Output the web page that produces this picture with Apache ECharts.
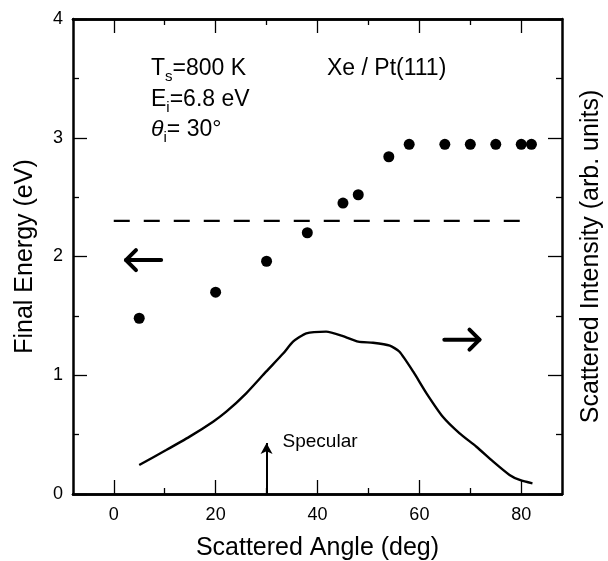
<!DOCTYPE html>
<html>
<head>
<meta charset="utf-8">
<script src="https://cdn.jsdelivr.net/npm/echarts@6/dist/echarts.min.js"></script>
<style>
html,body{margin:0;padding:0;background:#fff;}
#main{width:608px;height:561px;}
</style>
</head>
<body>
<div id="main"></div>
<script>
// ---- data ----
const angleEnergy = [5, 20, 30, 38, 45, 48, 54, 58, 65, 70, 75, 80, 82];
const finalEnergy = [1.48, 1.70, 1.96, 2.20, 2.45, 2.52, 2.84, 2.945, 2.945, 2.945, 2.945, 2.945, 2.945];
const angleCurve = [5, 10.3, 14.9, 19.5, 22.1, 26, 29.9, 33.3, 35.2, 37.8, 41.7, 45, 48, 50.9, 54.2, 56.1, 58.8, 61.4, 64.6, 67.9, 71.2, 74.5, 77.7, 79.7, 82.2];
const intensity = [0.244, 0.37, 0.483, 0.609, 0.693, 0.848, 1.03, 1.185, 1.283, 1.353, 1.367, 1.33, 1.283, 1.274, 1.249, 1.198, 1.03, 0.848, 0.651, 0.511, 0.398, 0.272, 0.16, 0.118, 0.09];
const incidentAngles = [0, 80];
const incidentLevel = [2.3, 2.3];
const xMajorTicks = [0, 20, 40, 60, 80];
const xMinorTicks = [10, 30, 50, 70];
const specularAngle = 30;
const specularTop = 0.43;
const leftArrow = {from: [9.3, 1.97], to: [2.4, 1.97]};
const rightArrow = {from: [64.9, 1.30], to: [71.8, 1.30]};

const FONT = 'Liberation Sans';
const BLACK = '#000';

const chart = echarts.init(document.getElementById('main'), null, {renderer: 'canvas'});

function xAxisDef(pos, ticks, len, labels, extra) {
  return Object.assign({
    type: 'value', min: -8, max: 88, position: pos,
    axisLine: {show: true, onZero: false, lineStyle: {color: BLACK, width: 2.5}},
    axisTick: {show: true, inside: true, length: len, customValues: ticks, lineStyle: {color: BLACK, width: 1.3}},
    axisLabel: labels ? {show: true, customValues: ticks, fontSize: 18, fontFamily: FONT, color: BLACK, margin: 12} : {show: false},
    splitLine: {show: false}
  }, extra || {});
}

const option = {
  animation: false,
  backgroundColor: '#fff',
  grid: {left: 73, right: 46, top: 19, bottom: 67, containLabel: false, outerBoundsMode: 'none'},
  xAxis: [
    xAxisDef('bottom', xMajorTicks, 14, true, {
      name: 'Scattered Angle (deg)', nameLocation: 'middle', nameGap: 42,
      nameTextStyle: {fontSize: 25, fontFamily: FONT, color: BLACK}
    }),
    xAxisDef('bottom', xMinorTicks, 6, false),
    xAxisDef('top', xMajorTicks, 14, false),
    xAxisDef('top', xMinorTicks, 6, false)
  ],
  yAxis: [
    {
      type: 'value', min: 0, max: 4, interval: 1, position: 'left',
      axisLine: {show: true, onZero: false, lineStyle: {color: BLACK, width: 2.5}},
      axisTick: {show: true, inside: true, length: 14, lineStyle: {color: BLACK, width: 1.3}},
      minorTick: {show: true, splitNumber: 2, length: 6, lineStyle: {color: BLACK, width: 1.3}},
      axisLabel: {fontSize: 18, fontFamily: FONT, color: BLACK, margin: 10},
      splitLine: {show: false}, minorSplitLine: {show: false},
      name: 'Final Energy (eV)', nameLocation: 'middle', nameRotate: 90, nameGap: 35,
      nameTextStyle: {fontSize: 25, fontFamily: FONT, color: BLACK}
    },
    {
      type: 'value', min: 0, max: 4, interval: 1, position: 'right',
      axisLine: {show: true, onZero: false, lineStyle: {color: BLACK, width: 2.5}},
      axisTick: {show: true, inside: true, length: 14, lineStyle: {color: BLACK, width: 1.3}},
      minorTick: {show: true, splitNumber: 2, length: 6, lineStyle: {color: BLACK, width: 1.3}},
      axisLabel: {show: false},
      splitLine: {show: false}, minorSplitLine: {show: false},
      name: 'Scattered Intensity (arb. units)', nameLocation: 'middle', nameRotate: 90, nameGap: 17,
      nameTextStyle: {fontSize: 25, fontFamily: FONT, color: BLACK}
    }
  ],
  series: [
    {
      type: 'scatter', xAxisIndex: 0, yAxisIndex: 0,
      data: angleEnergy.map((a, i) => [a, finalEnergy[i]]),
      symbol: 'circle', symbolSize: 11,
      itemStyle: {color: BLACK, opacity: 1},
      markLine: {
        silent: true, symbol: ['none', 'arrow'], symbolSize: [9, 11],
        label: {show: false},
        lineStyle: {color: BLACK, width: 2, type: 'solid'},
        data: [[{coord: [specularAngle, 0]}, {coord: [specularAngle, specularTop]}]]
      }
    },
    {
      type: 'line', xAxisIndex: 0, yAxisIndex: 0,
      data: incidentAngles.map((a, i) => [a, incidentLevel[i]]),
      symbol: 'none',
      lineStyle: {color: BLACK, width: 2.2, type: [16, 14]}
    },
    {
      type: 'line', xAxisIndex: 0, yAxisIndex: 1,
      data: angleCurve.map((a, i) => [a, intensity[i]]),
      symbol: 'none', smooth: 0.2,
      lineStyle: {color: BLACK, width: 2.4}
    }
  ]
};
chart.setOption(option);

// ---- annotations ----
const ctx = document.createElement('canvas').getContext('2d');
function measure(txt, size, style) {
  ctx.font = (style || '') + ' ' + size + 'px "' + FONT + '"';
  return ctx.measureText(txt).width;
}
// parts: [text, size, dy(baseline shift), fontStyle]
function richLine(x, baseline, parts) {
  const els = [];
  let cx = x;
  parts.forEach(p => {
    const [t, size, dy, st] = p;
    els.push({
      type: 'text', x: cx, y: baseline + dy - 0.347 * size,
      style: {text: t, fontSize: size, fontFamily: FONT, fontStyle: st || 'normal', fill: BLACK, verticalAlign: 'middle', align: 'left'}
    });
    cx += measure(t, size, st);
  });
  return els;
}

function arrowGraphic(a) {
  const p0 = chart.convertToPixel({xAxisIndex: 0, yAxisIndex: 0}, a.from);
  const p1 = chart.convertToPixel({xAxisIndex: 0, yAxisIndex: 0}, a.to);
  const dir = Math.sign(p1[0] - p0[0]);
  const h = 10;
  return [
    {type: 'polyline', shape: {points: [p0, p1]}, style: {stroke: BLACK, lineWidth: 4, lineCap: 'round', fill: null}},
    {type: 'polyline', shape: {points: [[p1[0] - dir * h, p1[1] - h], p1, [p1[0] - dir * h, p1[1] + h]]},
     style: {stroke: BLACK, lineWidth: 4, lineCap: 'round', lineJoin: 'round', fill: null}}
  ];
}

const g = [];
g.push(...richLine(151, 77, [['T', 23, 0], ['s', 15, 5], ['=800 K', 23, 0]]));
g.push(...richLine(151, 108, [['E', 23, 0], ['i', 15, 5], ['=6.8 eV', 23, 0]]));
g.push(...richLine(151, 138, [['θ', 23, 0, 'italic'], ['i', 15, 5], ['= 30°', 23, 0]]));
g.push(...richLine(327, 77, [['Xe / Pt(111)', 23, 0]]));
const sp = chart.convertToPixel({xAxisIndex: 0, yAxisIndex: 0}, [specularAngle, specularTop]);
g.push(...richLine(sp[0] + 16, sp[1] + 5, [['Specular', 19, 0]]));
g.push(...arrowGraphic(leftArrow));
g.push(...arrowGraphic(rightArrow));
chart.setOption({graphic: g});
</script>
</body>
</html>
